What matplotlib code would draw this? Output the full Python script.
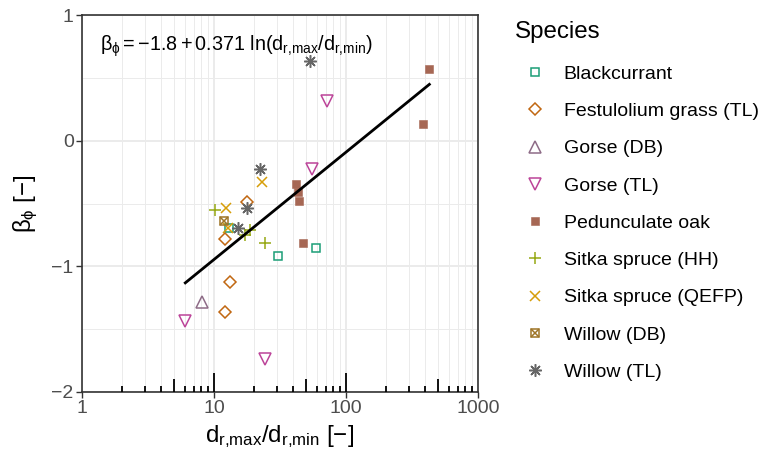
import numpy as np
import matplotlib
matplotlib.use('Agg')
import matplotlib.pyplot as plt
from matplotlib.lines import Line2D
from matplotlib.legend_handler import HandlerTuple

plt.rcParams['font.family'] = ['Liberation Sans', 'DejaVu Sans']
plt.rcParams['mathtext.fontset'] = 'custom'
plt.rcParams['mathtext.rm'] = 'Liberation Sans'
plt.rcParams['mathtext.it'] = 'Liberation Sans'
plt.rcParams['mathtext.bf'] = 'Liberation Sans:bold'
plt.rcParams['mathtext.sf'] = 'Liberation Sans'

# ---------------- data ----------------
species = ["Blackcurrant", "Festulolium grass (TL)", "Gorse (DB)", "Gorse (TL)",
           "Pedunculate oak", "Sitka spruce (HH)", "Sitka spruce (QEFP)",
           "Willow (DB)", "Willow (TL)"]
colors = ["#1B9E77", "#C16711", "#8E6C87", "#BC4499", "#A66754",
          "#96A814", "#D69E09", "#9E7426", "#666666"]

blackcurrant_x = [30.4, 59.6, 13.0]
blackcurrant_y = [-0.918, -0.852, -0.692]
festulolium_x = [17.7, 12.1, 13.2, 12.1]
festulolium_y = [-0.490, -0.785, -1.122, -1.361]
gorse_db_x = [8.11]
gorse_db_y = [-1.281]
gorse_tl_x = [71.4, 55.0, 6.06, 24.2]
gorse_tl_y = [0.316, -0.225, -1.432, -1.737]
oak_x = [428.0, 385.0, 41.8, 43.5, 44.0, 47.0]
oak_y = [0.570, 0.130, -0.347, -0.406, -0.480, -0.812]
sitka_hh_x = [10.2, 17.2, 18.7, 24.5]
sitka_hh_y = [-0.552, -0.751, -0.711, -0.812]
sitka_qefp_x = [23.0, 12.3, 12.8]
sitka_qefp_y = [-0.331, -0.533, -0.692]
willow_db_x = [12.0]
willow_db_y = [-0.637]
willow_tl_x = [53.4, 22.3, 17.7, 15.3]
willow_tl_y = [0.634, -0.225, -0.533, -0.698]

fit_intercept = -1.8
fit_slope = 0.371

x_ticks = [1, 10, 100, 1000]
x_tick_labels = ["1", "10", "100", "1000"]
y_ticks = [-2, -1, 0, 1]

# ---------------- figure ----------------
fig = plt.figure(figsize=(7.70, 4.57), dpi=100)
ax = fig.add_axes([82/770, 65/457, 396/770, 377/457])
ax.set_xscale('log')
ax.set_xlim(1, 1000)
ax.set_ylim(-2, 1)

# grid
minor_x = [k * 10**d for d in range(0, 3) for k in range(2, 10)]
ax.set_xticks(x_ticks)
ax.set_xticklabels(x_tick_labels)
ax.set_xticks(minor_x, minor=True)
ax.set_xticklabels([], minor=True)
ax.set_yticks(y_ticks)
ax.set_yticks([-1.5, -0.5, 0.5], minor=True)
ax.grid(which='major', color='#EBEBEB', lw=1.4, zorder=0)
ax.grid(which='minor', color='#EBEBEB', lw=0.7, zorder=0)
ax.set_axisbelow(True)
ax.tick_params(which='minor', length=0)
ax.tick_params(which='major', length=4, width=1.0, color='#333333',
               labelsize=14, labelcolor='#4D4D4D', pad=2)
for s in ax.spines.values():
    s.set_color('#333333')
    s.set_linewidth(1.2)

# log ticks annotation at bottom
trans = ax.get_xaxis_transform()
for d in range(0, 3):
    for k in range(2, 10):
        L = 0.034 if k == 5 else 0.016
        ax.plot([k * 10**d] * 2, [0, L], color='black', lw=1.3, transform=trans,
                solid_capstyle='butt', zorder=3, clip_on=False)
for v in [10, 100]:
    ax.plot([v, v], [0, 0.05], color='black', lw=1.3, transform=trans,
            solid_capstyle='butt', zorder=3, clip_on=False)

mew = 1.1
styles = [
    dict(marker='s', ms=5.9, mfc='none', mew=mew),
    dict(marker='D', ms=6.2, mfc='none', mew=mew),
    dict(marker='^', ms=8.0, mfc='none', mew=mew),
    dict(marker='v', ms=8.0, mfc='none', mew=mew),
    dict(marker='s', ms=5.4, mew=0.4),
    dict(marker='+', ms=9.0, mew=mew),
    dict(marker='x', ms=7.6, mew=mew),
    None,
    dict(marker=(8, 2, 0), ms=9.0, mew=mew),
]
data = [(blackcurrant_x, blackcurrant_y), (festulolium_x, festulolium_y),
        (gorse_db_x, gorse_db_y), (gorse_tl_x, gorse_tl_y), (oak_x, oak_y),
        (sitka_hh_x, sitka_hh_y), (sitka_qefp_x, sitka_qefp_y),
        (willow_db_x, willow_db_y), (willow_tl_x, willow_tl_y)]

handles = []
for i, (sp, col, st, (xs, ys)) in enumerate(zip(species, colors, styles, data)):
    if st is None:
        ax.plot(xs, ys, ls='none', marker='s', ms=6.2, mfc='none', mec=col, mew=mew, zorder=4)
        ax.plot(xs, ys, ls='none', marker='x', ms=6.2, mec=col, mew=mew, zorder=4)
        h1 = Line2D([], [], ls='none', marker='s', ms=6.2, mfc='none', mec=col, mew=mew)
        h2 = Line2D([], [], ls='none', marker='x', ms=6.2, mec=col, mew=mew)
        handles.append((h1, h2))
    else:
        kw = dict(st)
        if 'mfc' not in kw:
            kw['mfc'] = col
        ax.plot(xs, ys, ls='none', mec=col, zorder=4, **kw)
        handles.append(Line2D([], [], ls='none', mec=col, **kw))

# regression line
all_x = np.concatenate([np.asarray(d[0], float) for d in data])
xl = np.linspace(all_x.min(), all_x.max(), 200)
ax.plot(xl, fit_intercept + fit_slope * np.log(xl), color='black', lw=2.0, zorder=5)

ax.text(0.046, 0.918,
        r'$\beta_{\phi} = -1.8 + 0.371\ \ln(d_{r{,}max}/d_{r{,}min})$',
        transform=ax.transAxes, fontsize=14.2, va='center', ha='left')

ax.set_xlabel(r'$d_{r{,}max}/d_{r{,}min}$ [−]', fontsize=17.4, labelpad=4)
ax.set_ylabel(r'$\beta_{\phi}$ [−]', fontsize=17.4, labelpad=8)

leg = fig.legend(handles, species, loc='upper left', bbox_to_anchor=(515/770, 1 - 21/457),
                 frameon=False, title='Species', title_fontsize=17.4, fontsize=14,
                 alignment='left', handlelength=2.1, handletextpad=0.4,
                 labelspacing=1.01, borderpad=0, borderaxespad=0,
                 handler_map={tuple: HandlerTuple(ndivide=1)})
leg._legend_box.sep = 16

fig.savefig('out.png', dpi=100)
